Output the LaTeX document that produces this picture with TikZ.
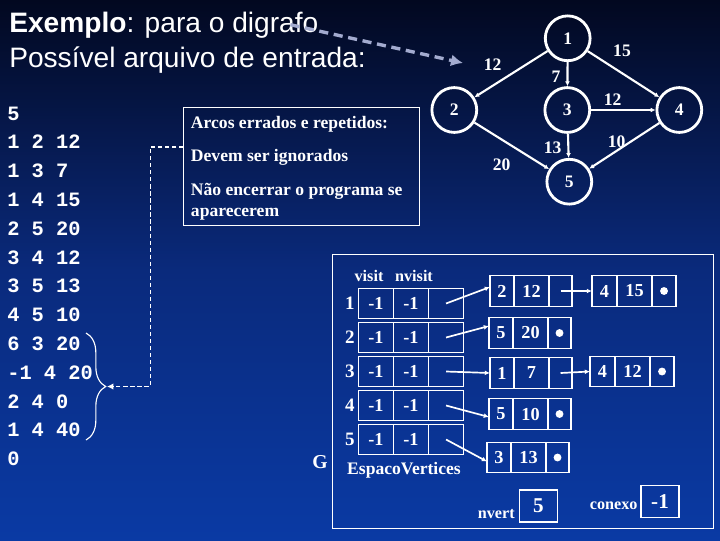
\documentclass[tikz,border=0pt]{standalone}
\usepackage{fontspec}
\setmainfont{Liberation Sans}
\newfontfamily\tms{Liberation Serif}
\newfontfamily\monof{Liberation Mono}
\usetikzlibrary{arrows.meta,positioning,calc,decorations.pathreplacing}
\definecolor{bgTop}{HTML}{020820}
\definecolor{bgMid}{HTML}{0A2A7C}
\definecolor{bgBot}{HTML}{0A3AA4}
\definecolor{dashGray}{HTML}{A3ABCF}

\begin{document}
\begin{tikzpicture}[x=0.025cm,y=-0.025cm,
  vtx/.style={circle,draw=white,line width=2pt,minimum size=1.12cm,inner sep=0pt,text=white,font=\tms\bfseries\fontsize{12.5}{12.5}\selectfont},
  wlbl/.style={text=white,inner sep=0pt,font=\tms\bfseries\fontsize{12.5}{12.5}\selectfont},
  edge/.style={white,line width=1.5pt,-{Latex[length=1.2mm,width=1.2mm]}},
  cell/.style={draw=white,line width=0.8pt,outer sep=0pt,minimum height=0.77cm,inner sep=0pt,text=white,font=\tms\bfseries\fontsize{13}{13}\selectfont},
  tcell/.style={cell,minimum width=0.875cm,font=\tms\bfseries\fontsize{13}{13}\selectfont},
  box/.style={cell,minimum width=0.95cm,minimum height=0.8cm,font=\tms\bfseries\fontsize{15}{15}\selectfont},
  ptr/.style={white,line width=1.2pt,-{Latex[length=1.3mm,width=1.2mm]}},
  lbl/.style={text=white,inner sep=0pt,font=\tms\bfseries\fontsize{11.5}{12}\selectfont},
  note/.style={text=white,inner sep=0pt,anchor=base west,font=\tms\bfseries\fontsize{12.5}{13}\selectfont},
  mono/.style={text=white,inner sep=0pt,anchor=base west,font=\monof\bfseries\fontsize{14.5}{14.5}\selectfont}
]
\shade[top color=bgTop,bottom color=bgBot,middle color=bgMid] (0,0) rectangle (720,540);
\useasboundingbox (0,0) rectangle (720,540);

\node[text=white,anchor=base west,inner sep=0pt,font=\fontsize{20}{20}\selectfont] (ttl1) at (9,32) {\textbf{Exemplo}: para o digrafo};
\node[text=white,anchor=base west,inner sep=0pt,font=\fontsize{20}{20}\selectfont] (ttl2) at (9,67) {Possível arquivo de entrada:};

\node[vtx] (v1) at (567.7,38.3) {1};
\node[vtx] (v2) at (454.3,110) {2};
\node[vtx] (v3) at (567.3,110) {3};
\node[vtx] (v4) at (679.3,110) {4};
\node[vtx] (v5) at (569.3,181.7) {5};
\draw[edge] (v1) -- (v2);
\draw[edge] (v1) -- (v3);
\draw[edge] (v1) -- (v4);
\draw[edge] (v2) -- (v5);
\draw[edge] (v3) -- (v4);
\draw[edge] (v3) -- (v5);
\draw[edge] (v4) -- (v5);
\node[wlbl] (w12) at (492.7,65) {12};
\node[wlbl] (w14) at (622,50.7) {15};
\node[wlbl] (w13) at (556,76.7) {7};
\node[wlbl] (w34) at (612.7,99.3) {12};
\node[wlbl] (w35) at (552.7,147.3) {13};
\node[wlbl] (w45) at (616.7,141.7) {10};
\node[wlbl] (w25) at (501.7,165) {20};

\coordinate (dgEnd) at (463,63);
\draw[dashGray,line width=2.4pt,dash pattern=on 6.5pt off 4pt,-{Latex[length=3mm,width=3mm]}] ([xshift=-20pt]ttl1.east) -- (dgEnd);

\foreach \ln [count=\k from 0] in {5,1 2 12,1 3 7,1 4 15,2 5 20,3 4 12,3 5 13,4 5 10,6 3 20,-1 4 20,2 4 0,1 4 40,0}
  \node[mono] (in\k) at (7,{120+28.8*\k}) {\ln};

\coordinate (brTop) at (86,333);
\coordinate (brBot) at (86,440);
\coordinate (brTip) at (107,386.5);
\draw[white,line width=0.8pt,decorate,decoration={brace,amplitude=14pt}] (brTop) -- (brBot);

\node[draw=white,line width=0.8pt,minimum width=5.9cm,minimum height=2.94cm,anchor=north west,inner sep=0pt] (nbox) at (183.3,107.3) {};
\node[note] (nt1) at (190.7,128) {Arcos errados e repetidos:};
\node[note] (nt2) at (190.7,161.7) {Devem ser ignorados};
\node[note] (nt3) at (190.7,195) {Não encerrar o programa se};
\node[note] (nt4) at (190.7,216.5) {aparecerem};
\draw[white,line width=0.8pt,dash pattern=on 3pt off 2pt,-{Latex[length=1.6mm,width=1.6mm]}] ([yshift=14pt]nbox.west) -- ++(-33,0) |- (brTip);

\node[draw=white,line width=0.8pt,minimum width=9.525cm,minimum height=6.85cm,anchor=north west,inner sep=0pt] (gbox) at (332,254) {};
\node[lbl,anchor=base,font=\tms\bfseries\fontsize{14}{14}\selectfont] (gl) at (320,468) {G};
\node[lbl,anchor=base] (hv) at (369,281.7) {visit};
\node[lbl,anchor=base] (hn) at (414,281.7) {nvisit};
\node[lbl,anchor=base,font=\tms\bfseries\fontsize{12.5}{13}\selectfont] (esp) at (404,474) {EspacoVertices};

\foreach \i in {1,...,5} {
  \node[tcell] (ta\i) at (376,{303.5+34*(\i-1)}) {-1};
  \node[tcell,right=0pt of ta\i] (tb\i) {-1};
  \node[tcell,right=0pt of tb\i] (tc\i) {};
  \node[lbl,font=\tms\bfseries\fontsize{13.5}{13.5}\selectfont,left=2.5pt of ta\i] (tn\i) {\i};
}

\foreach \i/\y/\lx/\p/\q/\e in {1/291/490/2/12/-4,2/333/489/5/20/-7,3/373/490/1/7/0,4/414/489/5/10/3,5/457.5/487/3/13/4} {
  \node[cell,minimum width=0.6cm,anchor=west] (la\i) at (\lx,\y) {\p};
  \node[cell,minimum width=0.875cm,right=0pt of la\i] (lb\i) {\q};
  \node[cell,minimum width=0.575cm,right=0pt of lb\i] (lc\i) {};
  \draw[ptr] (tc\i.center) -- ($(la\i.west)+(0,\e)$);
}
\foreach \i in {2,4,5}
  \fill[white] (lc\i.center) circle (2.8pt);

\node[cell,minimum width=0.625cm,anchor=west] (ma1) at (592,291) {4};
\node[cell,minimum width=0.875cm,right=0pt of ma1] (mb1) {15};
\node[cell,minimum width=0.6cm,right=0pt of mb1] (mc1) {};
\node[cell,minimum width=0.625cm,anchor=west] (ma3) at (590,371.5) {4};
\node[cell,minimum width=0.875cm,right=0pt of ma3] (mb3) {12};
\node[cell,minimum width=0.6cm,right=0pt of mb3] (mc3) {};
\fill[white] (mc1.center) circle (2.8pt);
\fill[white] (mc3.center) circle (2.8pt);
\draw[ptr] (lc1.center) -- (ma1.west);
\draw[ptr] (lc3.center) -- (ma3.west);

\node[box] (nv) at (538.3,506) {5};
\node[lbl,anchor=base east] (nvl) at (515,518) {nvert};
\node[box] (cx) at (660,501.5) {-1};
\node[lbl,anchor=base east] (cxl) at (637.7,509.3) {conexo};
\end{tikzpicture}
\end{document}
